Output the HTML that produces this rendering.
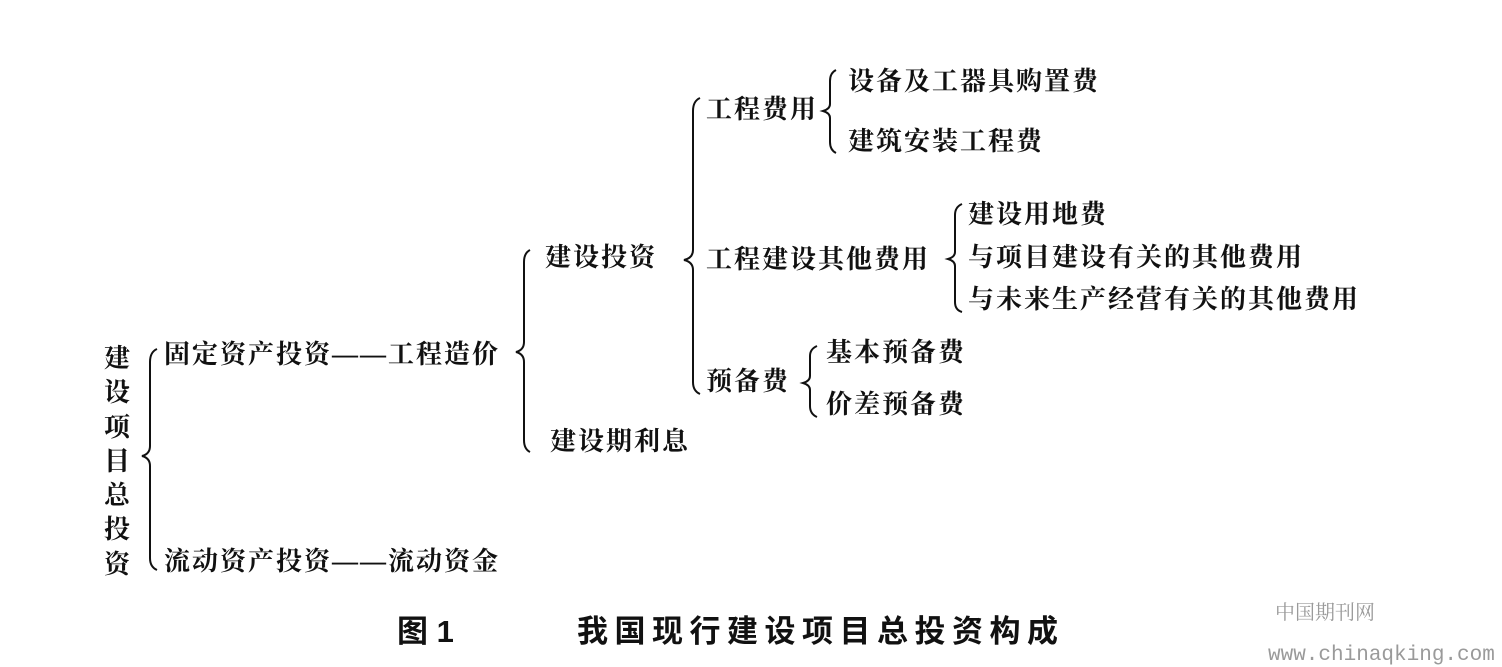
<!DOCTYPE html>
<html><head><meta charset="utf-8"><style>
html,body{margin:0;padding:0;background:#fff}
body{width:1502px;height:667px;position:relative;overflow:hidden;font-family:"Liberation Serif","Noto Serif CJK SC",serif;color:#111}
.t{position:absolute;font-size:26px;line-height:30px;white-space:nowrap;font-weight:700;letter-spacing:2px}
.v{position:absolute;left:103px;font-size:26px;line-height:34.3px;width:28px;top:342px;font-weight:700;text-align:center}
.cap{position:absolute;font-family:"Liberation Sans","Noto Sans CJK SC",sans-serif;font-weight:700;font-size:31px;line-height:36px;white-space:nowrap}
.wm{position:absolute;color:#9a9a9a;white-space:nowrap}
svg{position:absolute;left:0;top:0}
</style></head><body>
<svg width="1502" height="667" fill="none" stroke="#111" stroke-width="2">
<path d="M157 349 Q150 352 150 362 L150 446 Q150 454 142 456 Q150 458 150 466 L150 558 Q150 567 157 570"/>
<path d="M530 250 Q524 253 524 262 L524 342 Q524 350 516 352 Q524 354 524 362 L524 440 Q524 449 530 452"/>
<path d="M700 98 Q693 101 693 111 L693 250 Q693 258 684 260 Q693 262 693 270 L693 382 Q693 391 700 394"/>
<path d="M836 70 Q830 73 830 81 L830 104 Q830 109 823 111 Q830 113 830 118 L830 142 Q830 150 836 153"/>
<path d="M962 204 Q955 207 955 215 L955 252 Q955 257 948 259 Q955 261 955 266 L955 302 Q955 310 962 312"/>
<path d="M817 346 Q810 349 810 356 L810 376 Q810 381 803 383 Q810 385 810 390 L810 406 Q810 414 817 417"/>
</svg>
<div class="v">建<br>设<br>项<br>目<br>总<br>投<br>资</div>
<div class="t" style="left:164px;top:340px">固定资产投资——工程造价</div>
<div class="t" style="left:164px;top:547px">流动资产投资——流动资金</div>
<div class="t" style="left:545px;top:243px">建设投资</div>
<div class="t" style="left:550px;top:427px">建设期利息</div>
<div class="t" style="left:706px;top:95px">工程费用</div>
<div class="t" style="left:848px;top:67px">设备及工器具购置费</div>
<div class="t" style="left:848px;top:127px">建筑安装工程费</div>
<div class="t" style="left:706px;top:245px">工程建设其他费用</div>
<div class="t" style="left:968px;top:200px">建设用地费</div>
<div class="t" style="left:968px;top:243px">与项目建设有关的其他费用</div>
<div class="t" style="left:968px;top:285px">与未来生产经营有关的其他费用</div>
<div class="t" style="left:706px;top:367px">预备费</div>
<div class="t" style="left:826px;top:338px">基本预备费</div>
<div class="t" style="left:826px;top:390px">价差预备费</div>
<div class="cap" style="left:397px;top:614px">图 1</div>
<div class="cap" style="left:577px;top:614px;letter-spacing:6.5px">我国现行建设项目总投资构成</div>
<div class="wm" style="left:1275px;top:596px;font-size:20px;font-family:'Liberation Serif','Noto Serif CJK SC',serif">中国期刊网</div>
<div class="wm" style="left:1268px;top:644px;font-size:21px;font-family:'Liberation Mono',monospace">www.chinaqking.com</div>
</body></html>
